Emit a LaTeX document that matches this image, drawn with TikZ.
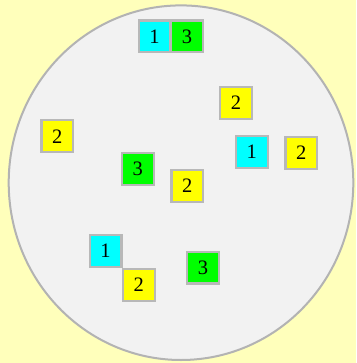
\documentclass[tikz,border=0pt]{standalone}
\usepackage{fontspec}
\setmainfont{Liberation Serif}
\definecolor{bgyellow}{HTML}{FFFFBB}
\definecolor{discfill}{HTML}{F2F2F2}
\definecolor{discline}{HTML}{B3B3B3}
\definecolor{boxline}{HTML}{B8B8B8}
\definecolor{cy}{HTML}{00FFFF}
\definecolor{gr}{HTML}{00FF00}
\definecolor{ye}{HTML}{FFFF00}
\tikzset{
  card/.style={draw=boxline, line width=2.2pt, minimum size=31.8pt, inner sep=0pt,
    font=\fontsize{20.5}{20.5}\selectfont},
  one/.style={card, fill=cy},
  two/.style={card, fill=ye},
  three/.style={card, fill=gr},
}
\begin{document}
\begin{tikzpicture}[x=1pt,y=-1pt]
\fill[bgyellow] (0,0) rectangle (356,363);
\useasboundingbox (0,0) rectangle (356,363);
\draw[discline, fill=discfill, line width=2pt] (181,182.7) ellipse [x radius=172.3, y radius=177.3];
\node[one]   (a1) at (154.5,36.5) {1};
\node[three] (a3) at (187,36.5) {3};
\node[two]   (b2) at (236,103) {2};
\node[two]   (c2) at (57.3,136.3) {2};
\node[one]   (d1) at (251.8,151.8) {1};
\node[two]   (e2) at (301.3,153) {2};
\node[three] (f3) at (137.8,168.7) {3};
\node[two]   (g2) at (187.3,185.8) {2};
\node[one]   (h1) at (105.5,250.8) {1};
\node[two]   (i2) at (138.7,284.7) {2};
\node[three] (j3) at (203,267.5) {3};
\end{tikzpicture}
\end{document}
